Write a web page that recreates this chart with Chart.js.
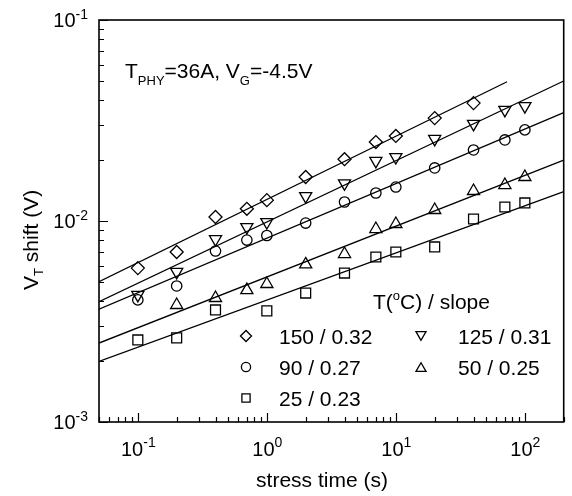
<!DOCTYPE html>
<html>
<head>
<meta charset="utf-8">
<title>VT shift vs stress time</title>
<script src="https://cdn.jsdelivr.net/npm/chart.js@4.4.1/dist/chart.umd.min.js"></script>
<style>
  html, body { margin: 0; padding: 0; background: #fff; }
  #wrap { width: 572px; height: 496px; }
</style>
</head>
<body>
<div id="wrap"><canvas id="chartShift" width="572" height="496"></canvas></div>
<script>
// --- DATA ---
// stress times (s)
const tAll = [0.1, 0.2, 0.4, 0.7, 1, 2, 4, 7, 10, 20, 40, 70, 100];
const t150 = [0.1, 0.2, 0.4, 0.7, 1, 2, 4, 7, 10, 20, 40];
const t50 = [0.2, 0.4, 0.7, 1, 2, 4, 7, 10, 20, 40, 70, 100];
const t25 = [0.1, 0.2, 0.4, 1, 2, 4, 7, 10, 20, 40, 70, 100];

// VT shift (V)
const v150 = [0.00583, 0.00701, 0.01047, 0.0115, 0.0127, 0.01656, 0.0203, 0.0247, 0.0265, 0.0325, 0.0386];
const v125 = [0.00429, 0.00558, 0.00813, 0.00933, 0.00988, 0.0133, 0.0154, 0.0199, 0.0208, 0.0256, 0.0304, 0.0357, 0.0373];
const v90 = [0.00405, 0.00475, 0.00709, 0.00804, 0.00847, 0.00977, 0.01243, 0.01378, 0.01476, 0.01836, 0.02256, 0.0253, 0.0284];
const v50 = [0.00382, 0.00414, 0.00453, 0.00486, 0.00608, 0.00685, 0.00912, 0.00966, 0.01134, 0.0141, 0.0151, 0.01655];
const v25 = [0.00256, 0.00262, 0.00361, 0.00357, 0.00438, 0.00551, 0.00662, 0.00701, 0.00743, 0.01023, 0.01174, 0.0123];

// power-law fit lines, end points (150, 125, 90, 50, 25 C)
const fitStartT = [0.05, 0.05, 0.05, 0.05, 0.05];
const fitStartV = [0.00499, 0.00397, 0.00364, 0.00247, 0.00200];
const fitEndT = [72.8, 200, 200, 200, 200];
const fitEndV = [0.0493, 0.0497, 0.0346, 0.0201, 0.0140];

// legend
const temps = ['150', '125', '90', '50', '25'];
const slopes = ['0.32', '0.31', '0.27', '0.25', '0.23'];

// axes
const xRange = [0.05, 200];
const yRange = [0.001, 0.1];
const xExps = ['-1', '0', '1', '2'];
const yExps = ['-1', '-2', '-3'];

// --- STYLES ---
const FONT = '"Liberation Sans", Arial, sans-serif';
const marks = [
  { pointStyle: 'rectRot', radius: 6.5, rotation: 0, legendRadius: 5.5 },
  { pointStyle: 'triangle', radius: 7, rotation: 180, legendRadius: 5.8 },
  { pointStyle: 'circle', radius: 5.2, rotation: 0, legendRadius: 4.6 },
  { pointStyle: 'triangle', radius: 7, rotation: 0, legendRadius: 5.8 },
  { pointStyle: 'rect', radius: 7, rotation: 0, legendRadius: 5.8 }
];

function toPoints(ts, vs) {
  return ts.map((t, i) => ({ x: t, y: vs[i] }));
}

// draws text pieces one after another: [text, fontSize, baselineShift]
function drawRich(ctx, parts, x, y) {
  parts.forEach(p => {
    ctx.font = p[1] + 'px ' + FONT;
    ctx.fillText(p[0], x, y + p[2]);
    x += ctx.measureText(p[0]).width;
  });
  return x;
}

function richWidth(ctx, parts) {
  let w = 0;
  parts.forEach(p => {
    ctx.font = p[1] + 'px ' + FONT;
    w += ctx.measureText(p[0]).width;
  });
  return w;
}

function drawMark(ctx, m, r, x, y) {
  ctx.save();
  ctx.strokeStyle = '#000';
  ctx.fillStyle = 'rgba(0,0,0,0)';
  ctx.lineWidth = 1.3;
  Chart.helpers.drawPoint(ctx, { pointStyle: m.pointStyle, rotation: m.rotation, radius: r, borderWidth: 1.3 }, x, y);
  ctx.restore();
}

// frame, inward ticks, labels, annotation and legend
const framePlugin = {
  id: 'frame',
  afterDraw(chart) {
    const { ctx, chartArea: a, scales: { x, y } } = chart;
    ctx.save();
    ctx.strokeStyle = '#000';
    ctx.fillStyle = '#000';
    ctx.lineWidth = 1.6;
    ctx.strokeRect(a.left, a.top, a.right - a.left, a.bottom - a.top);

    ctx.lineWidth = 1.2;
    ctx.beginPath();
    for (let k = -2; k <= 2; k++) {
      for (let m = 1; m <= 9; m++) {
        const v = m * Math.pow(10, k);
        if (v < xRange[0] * 0.999 || v > xRange[1] * 1.001) continue;
        const px = Math.round(x.getPixelForValue(v)) + 0.5;
        ctx.moveTo(px, a.bottom);
        ctx.lineTo(px, a.bottom - (m === 1 ? 9 : 5));
      }
    }
    for (let k = -3; k <= -1; k++) {
      for (let m = 1; m <= 9; m++) {
        const v = m * Math.pow(10, k);
        if (v < yRange[0] * 0.999 || v > yRange[1] * 1.001) continue;
        const py = Math.round(y.getPixelForValue(v)) + 0.5;
        ctx.moveTo(a.left, py);
        ctx.lineTo(a.left + (m === 1 ? 9 : 5), py);
      }
    }
    ctx.stroke();

    // tick labels
    ctx.textAlign = 'left';
    ctx.textBaseline = 'alphabetic';
    xExps.forEach(e => {
      const px = x.getPixelForValue(Math.pow(10, Number(e)));
      const parts = [['10', 20, 0], [e, 14, -9]];
      const w = richWidth(ctx, parts) + 1;
      drawRich(ctx, parts, px - w / 2 + 1, a.bottom + 34);
    });
    yExps.forEach(e => {
      const py = y.getPixelForValue(Math.pow(10, Number(e)));
      const parts = [['10', 20, 0], [e, 14, -8]];
      const w = richWidth(ctx, parts);
      drawRich(ctx, parts, 88 - w, py + 7);
    });

    // axis titles
    ctx.font = '21px ' + FONT;
    ctx.textAlign = 'center';
    ctx.fillText('stress time (s)', 322, 487);
    ctx.textAlign = 'left';
    ctx.save();
    ctx.translate(38, 290);
    ctx.rotate(-Math.PI / 2);
    drawRich(ctx, [['V', 21, 0], ['T', 13, 5], [' shift (V)', 21, 0]], 0, 0);
    ctx.restore();

    // conditions
    drawRich(ctx, [['T', 21, 0], ['PHY', 13, 7], ['=36A, V', 21, 0], ['G', 13, 7], ['=-4.5V', 21, 0]], 125, 78);

    // legend
    drawRich(ctx, [['T(', 21, 0], ['o', 13, -9], ['C) / slope', 21, 0]], 373, 309);
    const cols = [[246, 279], [421, 458]];
    const rowY = [336, 336, 367, 367, 398];
    const colOf = [0, 1, 0, 1, 0];
    temps.forEach((t, i) => {
      const c = cols[colOf[i]];
      drawMark(ctx, marks[i], marks[i].legendRadius, c[0], rowY[i] + (marks[i].pointStyle === 'triangle' ? (marks[i].rotation ? -1.5 : 1.5) : 0));
      ctx.font = '21px ' + FONT;
      ctx.fillStyle = '#000';
      ctx.fillText(t + ' / ' + slopes[i], c[1], rowY[i] + 7.5);
    });
    ctx.restore();
  }
};

// --- CHART ---
const series = [[t150, v150], [tAll, v125], [tAll, v90], [t50, v50], [t25, v25]];
const datasets = [];

series.forEach((s, i) => {
  datasets.push({
    data: [{ x: fitStartT[i], y: fitStartV[i] }, { x: fitEndT[i], y: fitEndV[i] }],
    showLine: true,
    borderColor: '#000',
    borderWidth: 1.3,
    pointRadius: 0
  });
});

series.forEach((s, i) => {
  datasets.push({
    data: toPoints(s[0], s[1]),
    showLine: false,
    pointStyle: marks[i].pointStyle,
    pointRotation: marks[i].rotation,
    pointRadius: marks[i].radius,
    pointBorderColor: '#000',
    pointBackgroundColor: 'rgba(0,0,0,0)',
    pointBorderWidth: 1.3
  });
});

new Chart(document.getElementById('chartShift'), {
  type: 'scatter',
  data: { datasets },
  options: {
    responsive: false,
    animation: false,
    devicePixelRatio: 1,
    layout: { padding: { left: 99, right: 5, top: 20, bottom: 74 } },
    plugins: { legend: { display: false }, tooltip: { enabled: false } },
    scales: {
      x: { type: 'logarithmic', min: xRange[0], max: xRange[1], display: false },
      y: { type: 'logarithmic', min: yRange[0], max: yRange[1], display: false }
    }
  },
  plugins: [framePlugin]
});
</script>
</body>
</html>
